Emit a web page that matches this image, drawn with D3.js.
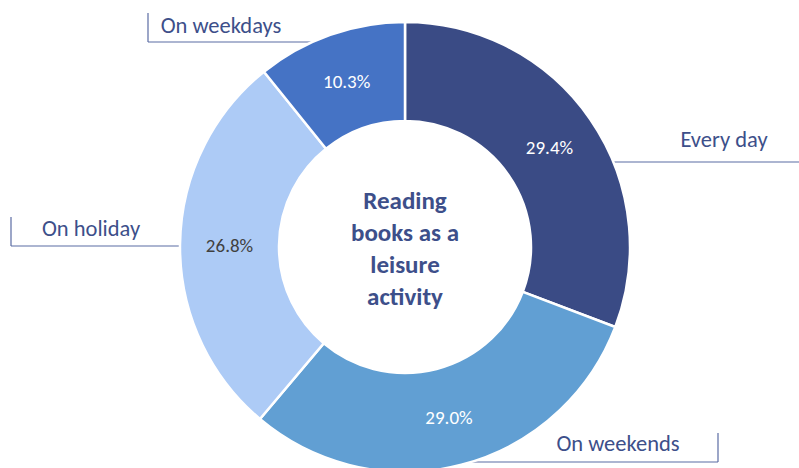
<!DOCTYPE html>
<html>
<head>
<meta charset="utf-8">
<script src="https://cdn.jsdelivr.net/npm/d3@7"></script>
<style>
  body { margin: 0; background: #fff; }
  svg { display: block; font-family: Carlito, Lato, "Open Sans", sans-serif; }
</style>
</head>
<body>
<div id="chart"></div>
<script>
// Data
const categories = ["Every day", "On weekends", "On holiday", "On weekdays"];
const values = [29.4, 29.0, 26.8, 10.3];
const colors = ["#3a4b85", "#619fd3", "#adcbf6", "#4573c5"];
const valueTextColors = ["#fff", "#fff", "#404040", "#fff"];
const centerTitle = ["Reading", "books as a", "leisure", "activity"];

// Callout labels (position of text, bracket tick end and line end)
const callouts = [
  {x: 724, y: 139, anchor: "middle", lineY: 162, x1: 610, x2: 800, tickX: null},
  {x: 618, y: 443, anchor: "middle", lineY: 462, x1: 465, x2: 718, tickX: 718},
  {x: 91, y: 228, anchor: "middle", lineY: 246, x1: 11, x2: 185, tickX: 11},
  {x: 221, y: 25, anchor: "middle", lineY: 42, x1: 148, x2: 318, tickX: 148}
];

function draw(container) {
  const width = 799;
  const height = 468;
  const cx = 405, cy = 247;
  const outerR = 225, innerR = 126;
  const navy = "#3d4f8a";

  const svg = d3.select(container).append("svg")
    .attr("width", width)
    .attr("height", height);

  // callout brackets, under the donut
  const lines = svg.append("g")
    .attr("stroke", "#5b6ca3")
    .attr("stroke-width", 1.2)
    .attr("fill", "none");
  callouts.forEach(c => {
    lines.append("line")
      .attr("x1", c.x1).attr("x2", c.x2)
      .attr("y1", c.lineY).attr("y2", c.lineY);
    if (c.tickX !== null) {
      lines.append("line")
        .attr("x1", c.tickX).attr("x2", c.tickX)
        .attr("y1", c.lineY - 29).attr("y2", c.lineY);
    }
  });

  const pie = d3.pie().sort(null).value(d => d);
  const arcs = pie(values);
  const arc = d3.arc().innerRadius(innerR).outerRadius(outerR);

  const g = svg.append("g").attr("transform", `translate(${cx},${cy})`);

  g.selectAll("path")
    .data(arcs)
    .join("path")
      .attr("d", arc)
      .attr("fill", (d, i) => colors[i])
      .attr("stroke", "#fff")
      .attr("stroke-width", 2.5);

  g.selectAll("text.val")
    .data(arcs)
    .join("text")
      .attr("class", "val")
      .attr("transform", d => `translate(${arc.centroid(d)})`)
      .attr("text-anchor", "middle")
      .attr("dy", "0.35em")
      .attr("font-size", 19)
      .attr("fill", (d, i) => valueTextColors[i])
      .text(d => d.data.toFixed(1) + "%");

  // center title
  g.append("text")
    .attr("text-anchor", "middle")
    .attr("font-size", 25)
    .attr("font-weight", "bold")
    .attr("fill", navy)
    .selectAll("tspan")
    .data(centerTitle)
    .join("tspan")
      .attr("x", 0)
      .attr("y", (d, i) => -47 + i * 32)
      .attr("dy", "0.35em")
      .text(d => d);

  // category labels
  svg.append("g")
    .selectAll("text")
    .data(callouts)
    .join("text")
      .attr("x", d => d.x)
      .attr("y", d => d.y)
      .attr("dy", "0.35em")
      .attr("text-anchor", d => d.anchor)
      .attr("font-size", 22.5)
      .attr("fill", navy)
      .text((d, i) => categories[i]);

  return svg.node();
}

draw("#chart");
</script>
</body>
</html>
